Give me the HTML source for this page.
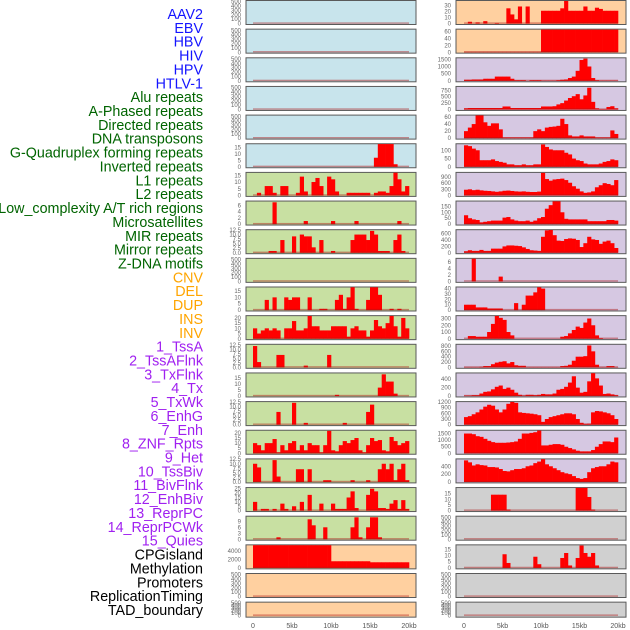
<!DOCTYPE html>
<html><head><meta charset="utf-8"><style>
html,body{margin:0;padding:0;background:#fff;}
svg{display:block;font-family:"Liberation Sans",sans-serif;}
</style></head><body>
<svg id="chart" width="630" height="630" viewBox="0 0 630 630" xmlns="http://www.w3.org/2000/svg"></svg>
<script>
const trackLabels = ["AAV2","EBV","HBV","HIV","HPV","HTLV-1","Alu repeats","A-Phased repeats","Directed repeats","DNA transposons","G-Quadruplex forming repeats","Inverted repeats","L1 repeats","L2 repeats","Low_complexity A/T rich regions","Microsatellites","MIR repeats","Mirror repeats","Z-DNA motifs","CNV","DEL","DUP","INS","INV","1_TssA","2_TssAFlnk","3_TxFlnk","4_Tx","5_TxWk","6_EnhG","7_Enh","8_ZNF_Rpts","9_Het","10_TssBiv","11_BivFlnk","12_EnhBiv","13_ReprPC","14_ReprPCWk","15_Quies","CPGisland","Methylation","Promoters","ReplicationTiming","TAD_boundary"];
const labelGroups = ["v","v","v","v","v","v","r","r","r","r","r","r","r","r","r","r","r","r","r","s","s","s","s","s","c","c","c","c","c","c","c","c","c","c","c","c","c","c","c","o","o","o","o","o"];
const xTickLabels = ["0","5kb","10kb","15kb","20kb"];
const xTickValues = [0,5000,10000,15000,20000];

const emptyValues = [0,0,0,0,0,0,0,0,0,0,0,0,0,0,0,0,0,0,0,0,0,0,0,0,0,0,0,0,0,0,0,0,0,0,0,0,0,0,0,0];
const emptyTicks = [0,100,200,300,400,500];
const L5 = [0,0,0,0,0,0,0,0,0,0,0,0,0,0,0,0,0,0,0,0,0,0,0,0,0,0,0,0,0,0,0,7,17.5,17.5,17.5,17.5,2,0,0,0];
const L6 = [0,2,0,7,7,2,0,7,7,0,0,2,14,3,0,10,13,7,0,14,12,3,0,0,2,2,2,2,2,2,0,2,3,3,2,7,18,12,3,7];
const L7 = [0,0,0,0,0,7,0,0,0,0,0,0,0,1,0,0,0,0,0,0,1,0,0,0,0,0,1,0,0,0,0,0,0,0,0,0,0,1,0,0];
const L8 = [0,0,0,0,1,1,0,7,0,0,9,0,10,9,9,3,0,7,0,0,1,0,0,0,0,7,10,10,10,7,12,10,1,1,1,0,7,10,1,0];
const L10 = [0,0,0,8,0,10,0,0,10,8,10,10,0,0,10,0,0,1,1,0,0,8,12,1,10,18,1,0,0,8,18,18,12,0,0,1,0,1,0,0];
const L11 = [10,5,8,10,8,10,8,0,10,10,17,8,8,10,22,12,12,8,8,8,12,12,12,12,2,10,12,8,8,2,8,18,12,10,15,22,12,2,20,10];
const L12 = [12,3,0,0,0,0,7,7,0,0,0,0,0,1,0,0,0,0,0,7,0,0,0,0,0,0,0,0,0,0,0,0,0,0,0,0,0,0,0,0];
const L13 = [0,0,0,0,0,0,0,0,0,0,0,0,0,0,0,0,0,0,0,0,0,1,0,0,0,0,0,0,0,0,0,0,7,18,12,12,2,0,0,0];
const L14 = [0,0,0,0,0,0,7,0,0,0,12,0,0,1,0,0,0,0,0,0,0,0,0,1,0,0,0,0,0,7,11,0,0,0,0,0,0,0,0,0];
const L15 = [10,8,3,10,10,14,1,8,3,10,12,3,8,3,10,8,8,1,8,22,3,2,8,12,10,13,15,3,1,8,15,12,13,3,2,16,12,8,10,12];
const L16 = [10,8,0,0,0,12,3,0,0,0,0,7,7,0,7,0,0,0,1,1,0,0,0,0,0,1,0,0,0,1,0,0,7,10,7,10,1,7,10,1];
const L17 = [10,0,2,2,0,2,0,8,2,0,5,0,10,0,18,0,0,8,0,0,8,2,2,2,15,22,3,0,0,18,25,22,3,3,2,8,12,2,12,2];
const L18 = [0,0,0,0,0,0,1,0,0,0,0,0,0,0,10,7,0,0,6,0,0,0,0,0,0,6,11,1,0,6,11,11,1,0,0,0,0,0,0,0];
const L19 = [5330,5330,5330,5330,5330,5330,5330,5330,5330,5330,5330,5330,5330,5330,5330,5330,5330,5330,5330,5330,1570,1570,1570,1570,1570,1570,1570,1570,1570,1570,1330,1330,1330,1330,1330,1330,1330,1330,1330,1330];

const R0 = [0,3,0,2,0,4,0,0,1,0,0,25,15,7,28,0,28,0,0,0,21,21,21,21,21,25,37,21,21,21,21,28,21,21,26,24,21,21,21,21];
const R1 = [1,1,1,1,1,1,1,1,1,1,1,1,1,1,1,1,1,1,1,1,65,65,65,65,65,65,65,65,65,65,65,65,65,65,65,65,65,65,65,65];
const R2 = [80,80,100,100,100,150,150,150,300,300,300,300,150,50,50,50,0,50,50,50,20,20,20,20,50,80,100,200,300,700,1450,1550,1000,200,50,20,20,20,20,20];
const R3 = [50,60,60,60,60,60,60,60,60,60,120,120,60,60,60,60,60,60,60,60,120,120,120,130,200,250,350,450,520,600,400,550,850,300,50,20,20,100,130,50];
const R4 = [20,30,40,65,65,45,35,42,42,25,2,2,2,2,2,2,2,2,20,25,20,30,32,33,35,55,40,8,5,5,8,5,5,5,2,2,2,2,22,12];
const R5 = [130,125,110,100,40,40,40,45,35,30,25,15,15,10,10,15,10,10,15,15,135,120,105,100,100,100,85,75,50,40,35,20,15,15,15,20,30,35,45,40];
const R6 = [280,300,260,280,250,230,220,200,180,200,230,240,220,200,190,200,180,170,170,190,1100,800,720,780,800,820,750,620,450,330,200,130,150,200,400,500,600,560,500,750];
const R7 = [75,50,40,35,15,20,25,30,30,30,55,60,40,30,25,25,30,20,30,50,60,130,160,195,195,100,45,40,40,40,40,40,25,25,25,25,25,35,35,30];
const R8 = [50,80,60,60,90,60,60,130,130,130,200,230,230,220,210,170,120,80,70,60,500,700,750,550,380,370,430,450,440,400,180,300,500,420,400,280,350,380,300,150];
const R9 = [0,0,7.5,0,0,0,0,0,0,1.5,0,0,0,0,0,0,0,0,0,0,0,0,0,0,0,0,0,0,0,0,0,0,0,0,0,0,0,0,0,0];
const R10 = [10,10,10,5,5,5,3,3,3,3,0,0,0,13,0,10,27,27,33,45,40,0,0,0,0,0,0,0,0,0,0,0,0,0,0,0,0,0,0,0];
const R11 = [0,40,40,30,30,30,100,220,360,310,280,100,50,0,0,0,0,0,0,0,0,0,0,0,0,30,40,80,130,180,160,240,300,200,50,10,0,0,0,0];
const R12 = [10,10,10,10,20,50,50,120,180,210,230,150,200,80,60,60,10,10,10,10,10,10,10,10,10,50,60,100,250,400,400,420,820,600,100,10,10,50,50,10];
const R13 = [10,10,20,20,60,100,110,160,220,250,170,200,150,80,30,10,30,30,20,30,50,40,40,60,150,170,220,320,470,200,80,100,350,560,420,250,50,60,40,20];
const R14 = [400,450,550,650,800,950,1050,1000,800,650,800,1100,1200,1150,650,620,600,580,550,500,150,300,400,450,500,550,600,600,550,300,100,50,60,650,720,700,650,600,500,300];
const R15 = [1500,1500,1450,1300,1250,1100,950,850,800,800,800,820,850,900,1100,1500,1500,1550,1600,1800,600,600,650,700,700,650,500,400,300,200,150,150,150,250,500,700,900,900,850,1200];
const R16 = [550,500,420,450,430,420,380,380,370,330,280,270,300,330,330,350,400,420,480,520,580,450,400,350,300,250,220,200,150,100,80,100,250,350,380,400,400,450,520,500];
const R17 = [0,0,0,0,0,0,0,14,14,14,14,1,0,0,0,0,0,0,0,0,0,0,0,0,0,0,0,0,0,20,20,20,12,1,0,0,0,0,0,0];
const R19 = [0,0,0,0,0,0,0,0,0,0,11,4,0,0,0,0,0,0,9,3,0,0,0,0,0,8,12,2,0,8,18,12,9,12,2,0,0,0,0,0];

const leftSeries = [emptyValues,emptyValues,emptyValues,emptyValues,emptyValues,L5,L6,L7,L8,emptyValues,L10,L11,L12,L13,L14,L15,L16,L17,L18,L19,emptyValues,emptyValues];
const rightSeries = [R0,R1,R2,R3,R4,R5,R6,R7,R8,R9,R10,R11,R12,R13,R14,R15,R16,R17,emptyValues,R19,emptyValues,emptyValues];
const t125 = [0,2.5,5,7.5,10,12.5];
const leftTicks = [emptyTicks,emptyTicks,emptyTicks,emptyTicks,emptyTicks,[0,5,10,15],[0,5,10,15],[0,2,4,6],t125,emptyTicks,[0,5,10,15],[0,5,10,15,20],t125,[0,5,10,15],t125,[0,5,10,15,20],t125,[0,5,10,15,20,25],[0,3,6,9],[0,2000,4000],emptyTicks,emptyTicks];
const rightTicks = [[0,10,20,30],[0,20,40,60],[0,500,1000,1500],[0,250,500,750],[0,20,40,60],[0,50,100],[0,300,600,900],[0,50,100,150],[0,200,400,600],[0,2,4,6],[0,10,20,30,40],[0,100,200,300],[0,200,400,600,800],[0,200,400],[0,300,600,900,1200],[0,500,1000,1500],[0,200,400],[0,5,10,15],emptyTicks,[0,5,10,15],emptyTicks,emptyTicks];
const leftMax = [520,520,520,520,520,17.5,16.9,7.3,12.5,520,17.9,21.9,12.8,18.9,12.5,22.3,12.5,26,11.4,5350,520,520];
const rightMax = [37.3,65.4,1583,888,64.5,137.5,1108,192,712,7.05,42.4,338,852,542,1200,1726,580,20,520,18.3,520,520];
const leftBg = ["#c8e4ec","#c8e4ec","#c8e4ec","#c8e4ec","#c8e4ec","#c8e4ec","#c8e0a2","#c8e0a2","#c8e0a2","#c8e0a2","#c8e0a2","#c8e0a2","#c8e0a2","#c8e0a2","#c8e0a2","#c8e0a2","#c8e0a2","#c8e0a2","#c8e0a2","#ffd0a0","#ffd0a0","#ffd0a0"];
const rightBg = ["#ffd0a0","#ffd0a0","#d6c8e2","#d6c8e2","#d6c8e2","#d6c8e2","#d6c8e2","#d6c8e2","#d6c8e2","#d6c8e2","#d6c8e2","#d6c8e2","#d6c8e2","#d6c8e2","#d6c8e2","#d6c8e2","#d6c8e2","#d0d0d0","#d0d0d0","#d0d0d0","#d0d0d0","#d0d0d0"];

const NS = "http://www.w3.org/2000/svg";
const svg = document.getElementById("chart");
const groupColor = {v:"#1414ff", r:"#006400", s:"#ffa500", c:"#a020f0", o:"#000000"};
function mk(tag, attrs){ const e=document.createElementNS(NS,tag); for(const k in attrs) e.setAttribute(k,attrs[k]); return e; }

trackLabels.forEach((t,i)=>{
  const el = mk("text",{x:203,y:15+i*13.86,"text-anchor":"end","dominant-baseline":"central","font-size":"14.3",fill:groupColor[labelGroups[i]]});
  
  
  el.textContent = t;
  svg.appendChild(el);
});

const cols = [
  {px0:246, px1:416, d0:253, d1:409, tickX:241, series:leftSeries, ticks:leftTicks, max:leftMax, bg:leftBg, name:'left'},
  {px0:456, px1:626, d0:464, d1:618, tickX:451, series:rightSeries, ticks:rightTicks, max:rightMax, bg:rightBg, name:'right'}
];
function fmt(v, ticks){ return ticks===t125 ? v.toFixed(1) : String(v); }

cols.forEach(c=>{
  const xScale = bp => c.d0 + (bp/20000)*(c.d1-c.d0);
  for(let r=0;r<22;r++){
    const top = r*28.65+0.5;
    const h = r===21 ? 15 : 24;
    const base = top + (r===21 ? 13.5 : 23.1);
    const ymax = c.max[r];
    const yScale = v => base - Math.min(v/ymax,1)*(base-top-0.3);
    const g = mk("g",{});
    
    
    const bg = mk("rect",{x:c.px0,y:top,width:c.px1-c.px0,height:h,fill:c.bg[r],stroke:"#5a5a5a","stroke-width":"1"});
    
    
    g.appendChild(bg);
    const vals = c.series[r];
    const binW = 20000/vals.length;
    vals.forEach((v,i)=>{
      if(v<=0) return;
      const x0 = xScale(i*binW), x1 = xScale((i+1)*binW);
      const y = yScale(v);
      const bar = mk("rect",{x:x0,y:y,width:x1-x0+0.3,height:base-y,fill:"#ff0000"});
      
      
      g.appendChild(bar);
    });
    const bl = mk("rect",{x:xScale(0),y:base-1.2,width:xScale(20000)-xScale(0),height:1.4,fill:"rgba(170,20,20,0.45)"});
    
    
    g.appendChild(bl);
    c.ticks[r].forEach(tv=>{
      const tl = mk("text",{x:c.tickX,y:yScale(tv)+2,"text-anchor":"end","font-size":"6",fill:"#666"});
      
      
      tl.textContent = fmt(tv, c.ticks[r]);
      g.appendChild(tl);
    });
    svg.appendChild(g);
  }
  xTickValues.forEach((v,i)=>{
    const tl = mk("text",{x:xScale(v),y:628,"text-anchor":"middle","font-size":"7",fill:"#555"});
    
    
    tl.textContent = xTickLabels[i];
    svg.appendChild(tl);
  });
});
</script>
</body></html>
